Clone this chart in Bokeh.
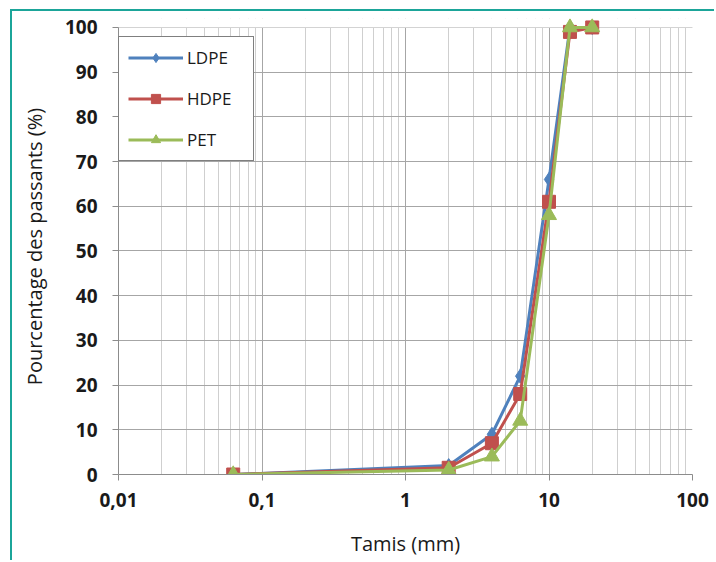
from bokeh.plotting import figure
from bokeh.models import FixedTicker, Range1d, Legend, LegendItem, BoxAnnotation
from bokeh.embed import file_html
from bokeh.resources import INLINE

sieves = [0.063, 2, 4, 6.3, 10, 14, 20]
ldpe = [0, 2, 9, 22, 66, 100, 100]
hdpe = [0, 1.5, 7, 18, 61, 99, 100]
pet = [0, 1, 4, 12, 58, 100, 100]
x_ticks = [0.01, 0.1, 1, 10, 100]
x_tick_labels = ["0,01", "0,1", "1", "10", "100"]
y_ticks = list(range(0, 101, 10))

FONT = "Open Sans"
LEFT, TOP = 12, 11  # offset produced by teal frame

p = figure(width=704, height=551, x_axis_type="log",
           x_range=Range1d(0.01, 100), y_range=Range1d(0, 102),
           output_backend="svg", toolbar_location=None,
           min_border_left=118 - LEFT, min_border_right=24,
           min_border_top=18 - TOP, min_border_bottom=88)
p.margin = (9, 0, 0, 10)
p.styles = {"border-top": "2px solid #1BA599", "border-left": "2px solid #1BA599"}
p.outline_line_color = None
p.background_fill_color = "white"
p.border_fill_color = "white"

minor = []
for d in x_ticks[:-1]:
    for k in range(2, 10):
        minor.append(d * k)
p.xaxis.ticker = FixedTicker(ticks=x_ticks, minor_ticks=minor)
p.xaxis.major_label_overrides = {t: l for t, l in zip(x_ticks, x_tick_labels)}
p.yaxis.ticker = FixedTicker(ticks=y_ticks)
p.yaxis.bounds = (0, 100)

for ax in (p.xaxis[0], p.yaxis[0]):
    ax.axis_line_color = "#8c8c8c"
    ax.major_tick_line_color = "#8c8c8c"
    ax.major_tick_in = 0
    ax.major_tick_out = 6
    ax.minor_tick_line_color = None
    ax.major_label_text_font = FONT
    ax.major_label_text_font_style = "bold"
    ax.major_label_text_font_size = "19px"
    ax.major_label_text_color = "#1a1a1a"
    ax.axis_label_text_font = FONT
    ax.axis_label_text_font_style = "normal"
    ax.axis_label_text_font_size = "20px"
    ax.axis_label_text_color = "#1a1a1a"

p.xaxis.axis_label = "Tamis (mm)"
p.yaxis.axis_label = "Pourcentage des passants (%)"
p.xaxis.major_label_standoff = 12
p.xaxis.axis_label_standoff = 20
p.yaxis.major_label_standoff = 15
p.yaxis.axis_label_standoff = 14

p.xgrid.grid_line_color = "#a6a6a6"
p.xgrid.minor_grid_line_color = "#cfcfcf"
p.ygrid.grid_line_color = "#a6a6a6"

# blank strip above the 100 % line so markers at 100 are not cut
p.add_layout(BoxAnnotation(bottom=100, fill_color="white", fill_alpha=1,
                           line_color=None, level="underlay"), "center")

blue, red, green = "#4F81BD", "#C0504D", "#9BBB59"

l1 = p.line(sieves, ldpe, line_color=blue, line_width=3)
m1 = p.scatter(sieves, ldpe, marker="diamond", size=14, fill_color=blue, line_color=blue)
l2 = p.line(sieves, hdpe, line_color=red, line_width=3)
m2 = p.scatter(sieves, hdpe, marker="square", size=13, fill_color=red, line_color=red)
l3 = p.line(sieves, pet, line_color=green, line_width=3)
m3 = p.scatter(sieves, pet, marker="triangle", size=15, fill_color=green, line_color=green)

legend = Legend(items=[
    LegendItem(label="LDPE", renderers=[l1, m1]),
    LegendItem(label="HDPE", renderers=[l2, m2]),
    LegendItem(label="PET", renderers=[l3, m3]),
], location=(0, 313))
legend.border_line_color = "black"
legend.border_line_width = 1.5
legend.background_fill_color = "white"
legend.background_fill_alpha = 1
legend.padding = 9
legend.spacing = 18
legend.label_height = 23
legend.glyph_height = 23
legend.glyph_width = 55
legend.label_standoff = 4
legend.label_width = 57
legend.margin = 0
legend.label_text_font = FONT
legend.label_text_font_size = "17px"
legend.label_text_color = "#1a1a1a"
p.add_layout(legend, "center")

open("out.html", "w").write(file_html(p, INLINE))
